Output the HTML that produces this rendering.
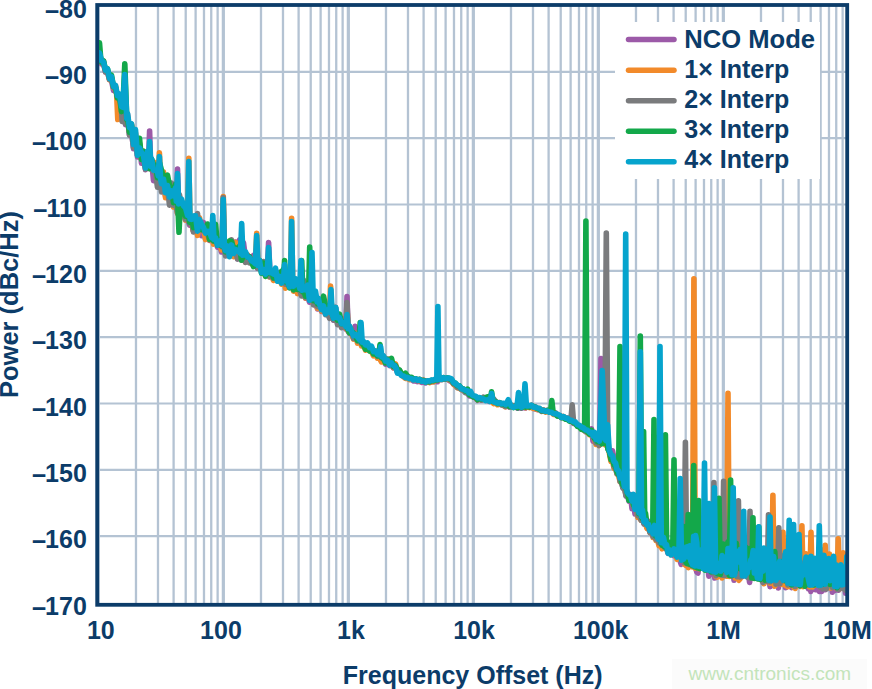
<!DOCTYPE html>
<html><head><meta charset="utf-8"><style>
html,body{margin:0;padding:0;background:#fff;}
svg{display:block;}
.t{font-family:"Liberation Sans",sans-serif;font-weight:bold;font-size:25px;fill:#0c3c69;}
.wm{font-family:"Liberation Sans",sans-serif;font-size:19px;fill:#c3e4ba;}
</style></head><body>
<svg width="872" height="689" viewBox="0 0 872 689">
<line x1="98.35" y1="5" x2="98.35" y2="604" stroke="#b4c3d3" stroke-width="3.2"/>
<line x1="135.98" y1="5" x2="135.98" y2="604" stroke="#b4c3d3" stroke-width="2.3"/>
<line x1="157.99" y1="5" x2="157.99" y2="604" stroke="#b4c3d3" stroke-width="2.3"/>
<line x1="173.61" y1="5" x2="173.61" y2="604" stroke="#b4c3d3" stroke-width="2.3"/>
<line x1="185.72" y1="5" x2="185.72" y2="604" stroke="#b4c3d3" stroke-width="2.3"/>
<line x1="195.62" y1="5" x2="195.62" y2="604" stroke="#b4c3d3" stroke-width="2.3"/>
<line x1="203.99" y1="5" x2="203.99" y2="604" stroke="#b4c3d3" stroke-width="2.3"/>
<line x1="211.24" y1="5" x2="211.24" y2="604" stroke="#b4c3d3" stroke-width="2.3"/>
<line x1="217.63" y1="5" x2="217.63" y2="604" stroke="#b4c3d3" stroke-width="2.3"/>
<line x1="223.35" y1="5" x2="223.35" y2="604" stroke="#b4c3d3" stroke-width="3.2"/>
<line x1="260.98" y1="5" x2="260.98" y2="604" stroke="#b4c3d3" stroke-width="2.3"/>
<line x1="282.99" y1="5" x2="282.99" y2="604" stroke="#b4c3d3" stroke-width="2.3"/>
<line x1="298.61" y1="5" x2="298.61" y2="604" stroke="#b4c3d3" stroke-width="2.3"/>
<line x1="310.72" y1="5" x2="310.72" y2="604" stroke="#b4c3d3" stroke-width="2.3"/>
<line x1="320.62" y1="5" x2="320.62" y2="604" stroke="#b4c3d3" stroke-width="2.3"/>
<line x1="328.99" y1="5" x2="328.99" y2="604" stroke="#b4c3d3" stroke-width="2.3"/>
<line x1="336.24" y1="5" x2="336.24" y2="604" stroke="#b4c3d3" stroke-width="2.3"/>
<line x1="342.63" y1="5" x2="342.63" y2="604" stroke="#b4c3d3" stroke-width="2.3"/>
<line x1="348.35" y1="5" x2="348.35" y2="604" stroke="#b4c3d3" stroke-width="3.2"/>
<line x1="385.98" y1="5" x2="385.98" y2="604" stroke="#b4c3d3" stroke-width="2.3"/>
<line x1="407.99" y1="5" x2="407.99" y2="604" stroke="#b4c3d3" stroke-width="2.3"/>
<line x1="423.61" y1="5" x2="423.61" y2="604" stroke="#b4c3d3" stroke-width="2.3"/>
<line x1="435.72" y1="5" x2="435.72" y2="604" stroke="#b4c3d3" stroke-width="2.3"/>
<line x1="445.62" y1="5" x2="445.62" y2="604" stroke="#b4c3d3" stroke-width="2.3"/>
<line x1="453.99" y1="5" x2="453.99" y2="604" stroke="#b4c3d3" stroke-width="2.3"/>
<line x1="461.24" y1="5" x2="461.24" y2="604" stroke="#b4c3d3" stroke-width="2.3"/>
<line x1="467.63" y1="5" x2="467.63" y2="604" stroke="#b4c3d3" stroke-width="2.3"/>
<line x1="473.35" y1="5" x2="473.35" y2="604" stroke="#b4c3d3" stroke-width="3.2"/>
<line x1="510.98" y1="5" x2="510.98" y2="604" stroke="#b4c3d3" stroke-width="2.3"/>
<line x1="532.99" y1="5" x2="532.99" y2="604" stroke="#b4c3d3" stroke-width="2.3"/>
<line x1="548.61" y1="5" x2="548.61" y2="604" stroke="#b4c3d3" stroke-width="2.3"/>
<line x1="560.72" y1="5" x2="560.72" y2="604" stroke="#b4c3d3" stroke-width="2.3"/>
<line x1="570.62" y1="5" x2="570.62" y2="604" stroke="#b4c3d3" stroke-width="2.3"/>
<line x1="578.99" y1="5" x2="578.99" y2="604" stroke="#b4c3d3" stroke-width="2.3"/>
<line x1="586.24" y1="5" x2="586.24" y2="604" stroke="#b4c3d3" stroke-width="2.3"/>
<line x1="592.63" y1="5" x2="592.63" y2="604" stroke="#b4c3d3" stroke-width="2.3"/>
<line x1="598.35" y1="5" x2="598.35" y2="604" stroke="#b4c3d3" stroke-width="3.2"/>
<line x1="635.98" y1="5" x2="635.98" y2="604" stroke="#b4c3d3" stroke-width="2.3"/>
<line x1="657.99" y1="5" x2="657.99" y2="604" stroke="#b4c3d3" stroke-width="2.3"/>
<line x1="673.61" y1="5" x2="673.61" y2="604" stroke="#b4c3d3" stroke-width="2.3"/>
<line x1="685.72" y1="5" x2="685.72" y2="604" stroke="#b4c3d3" stroke-width="2.3"/>
<line x1="695.62" y1="5" x2="695.62" y2="604" stroke="#b4c3d3" stroke-width="2.3"/>
<line x1="703.99" y1="5" x2="703.99" y2="604" stroke="#b4c3d3" stroke-width="2.3"/>
<line x1="711.24" y1="5" x2="711.24" y2="604" stroke="#b4c3d3" stroke-width="2.3"/>
<line x1="717.63" y1="5" x2="717.63" y2="604" stroke="#b4c3d3" stroke-width="2.3"/>
<line x1="723.35" y1="5" x2="723.35" y2="604" stroke="#b4c3d3" stroke-width="3.2"/>
<line x1="760.98" y1="5" x2="760.98" y2="604" stroke="#b4c3d3" stroke-width="2.3"/>
<line x1="782.99" y1="5" x2="782.99" y2="604" stroke="#b4c3d3" stroke-width="2.3"/>
<line x1="798.61" y1="5" x2="798.61" y2="604" stroke="#b4c3d3" stroke-width="2.3"/>
<line x1="810.72" y1="5" x2="810.72" y2="604" stroke="#b4c3d3" stroke-width="2.3"/>
<line x1="820.62" y1="5" x2="820.62" y2="604" stroke="#b4c3d3" stroke-width="2.3"/>
<line x1="828.99" y1="5" x2="828.99" y2="604" stroke="#b4c3d3" stroke-width="2.3"/>
<line x1="836.24" y1="5" x2="836.24" y2="604" stroke="#b4c3d3" stroke-width="2.3"/>
<line x1="842.63" y1="5" x2="842.63" y2="604" stroke="#b4c3d3" stroke-width="2.3"/>
<line x1="97" y1="71.83" x2="847" y2="71.83" stroke="#b4c3d3" stroke-width="2.2"/>
<line x1="97" y1="138.16" x2="847" y2="138.16" stroke="#b4c3d3" stroke-width="2.2"/>
<line x1="97" y1="204.49" x2="847" y2="204.49" stroke="#b4c3d3" stroke-width="2.2"/>
<line x1="97" y1="270.82" x2="847" y2="270.82" stroke="#b4c3d3" stroke-width="2.2"/>
<line x1="97" y1="337.15" x2="847" y2="337.15" stroke="#b4c3d3" stroke-width="2.2"/>
<line x1="97" y1="403.48" x2="847" y2="403.48" stroke="#b4c3d3" stroke-width="2.2"/>
<line x1="97" y1="469.81" x2="847" y2="469.81" stroke="#b4c3d3" stroke-width="2.2"/>
<line x1="97" y1="536.14" x2="847" y2="536.14" stroke="#b4c3d3" stroke-width="2.2"/>
<rect x="615" y="22" width="205" height="157" fill="#ffffff"/>
<defs><clipPath id="pc"><rect x="97.2" y="5" width="750" height="600"/></clipPath></defs><g clip-path="url(#pc)">
<polyline points="97.5,55.6 99.5,53.7 101.5,64.0 103.5,63.9 105.5,72.1 107.5,72.2 109.5,79.5 111.5,80.2 113.5,90.5 115.5,88.1 117.5,97.4 119.5,98.6 121.5,110.0 123.5,99.2 125.5,124.6 127.5,114.0 129.5,135.0 131.5,130.9 133.5,148.7 135.5,138.2 137.5,157.0 139.5,142.9 141.5,163.3 143.5,152.0 145.5,169.6 147.5,161.5 148.4,165.9 149.6,131.0 150.8,168.8 151.5,159.3 153.5,180.6 155.5,172.6 157.5,177.4 159.5,175.7 161.5,189.1 163.5,185.1 165.5,196.1 167.5,179.9 169.5,191.9 171.5,193.8 173.5,206.2 175.5,196.1 176.3,203.6 177.5,169.1 178.7,206.4 179.5,200.2 181.5,213.4 183.5,209.0 185.5,219.9 187.5,217.3 189.5,225.1 191.5,223.0 193.5,231.0 195.5,227.1 197.5,222.0 199.5,229.5 201.5,235.6 203.5,222.4 205.5,239.0 207.5,234.0 209.5,240.3 211.5,232.6 213.5,242.6 215.5,241.2 217.5,247.0 219.5,244.0 221.5,252.0 223.5,243.6 225.5,253.1 227.5,246.2 229.5,248.2 231.5,249.9 233.5,254.3 235.5,242.0 237.5,259.0 239.5,239.8 241.5,258.0 243.5,242.8 245.5,258.6 247.5,255.0 249.5,259.2 251.5,260.2 253.5,255.4 255.5,261.0 257.5,268.3 259.5,264.3 261.5,264.1 263.5,267.4 265.5,267.7 267.2,273.8 268.6,242.5 270.0,275.2 271.5,271.1 273.5,276.5 275.5,273.2 277.5,279.7 279.5,275.4 281.5,281.8 283.5,276.7 285.5,284.6 287.5,274.2 289.5,284.6 291.5,281.2 293.5,288.7 295.5,285.2 297.5,293.1 299.5,288.8 301.5,284.3 303.5,293.7 305.5,298.2 307.5,295.6 309.5,302.1 311.5,300.7 313.5,296.9 315.5,302.8 317.5,308.8 319.5,306.4 321.5,311.3 323.5,309.1 325.5,308.7 327.5,312.0 329.5,317.2 331.5,314.2 333.5,320.1 335.5,307.7 337.5,323.2 339.5,319.4 341.5,318.6 343.5,324.4 345.8,328.9 347.0,296.5 348.2,331.3 349.5,333.0 351.5,332.4 353.8,337.1 355.0,326.2 356.2,339.3 357.5,340.4 359.5,339.0 361.5,343.0 363.5,342.4 365.5,347.4 367.5,347.4 369.5,350.5 371.5,350.2 373.5,352.7 375.5,351.7 377.5,357.1 379.5,355.8 381.5,360.9 383.5,359.3 385.5,364.1 387.5,362.3 389.5,365.7 391.5,364.9 393.5,368.0 395.5,367.5 397.5,372.3 399.5,372.9 401.5,375.0 403.5,376.1 405.5,377.6 407.5,377.0 409.5,378.9 411.5,379.5 413.5,380.9 415.5,380.8 417.5,381.6 419.5,381.3 421.5,382.4 423.5,381.6 425.5,383.0 427.5,381.5 429.5,382.3 431.5,381.7 433.5,381.8 435.5,381.1 437.5,381.7 439.5,376.5 441.5,379.2 443.5,377.9 445.5,379.0 447.5,378.7 449.5,380.7 451.5,381.6 453.5,383.6 455.5,384.3 457.5,386.4 459.5,387.6 461.5,388.9 463.5,389.2 465.5,392.0 467.5,392.8 469.5,395.9 471.5,396.0 473.5,397.1 475.5,397.8 477.5,400.4 479.5,398.8 481.5,400.1 483.5,399.1 485.5,400.3 487.5,400.4 489.5,401.5 491.5,400.8 493.5,402.2 495.5,402.0 497.5,403.4 499.5,403.3 501.5,404.7 503.5,404.2 505.5,405.5 507.5,404.9 509.5,406.9 511.5,405.8 513.5,406.6 515.5,406.9 517.5,408.3 519.5,407.7 521.5,408.2 523.5,407.4 525.5,408.0 527.5,406.0 529.5,406.1 531.5,406.1 533.5,408.4 535.5,409.0 537.5,409.6 539.5,409.6 541.5,410.8 543.5,409.9 545.5,411.0 547.5,411.1 549.5,412.1 551.5,411.9 553.5,413.4 555.5,413.5 557.5,414.8 559.5,415.7 561.5,417.6 563.5,417.0 565.5,418.5 567.5,418.4 569.5,420.1 571.5,420.5 573.5,423.4 575.5,423.8 577.5,425.8 579.5,426.2 581.5,428.9 583.5,429.0 585.5,430.9 587.5,431.7 589.5,433.9 591.5,428.9 593.0,441.1 594.5,433.8 596.0,443.3 597.5,441.7 599.0,444.8 599.6,443.5 601.0,358.5 602.4,442.1 603.5,438.1 605.0,442.1 606.5,441.0 608.0,449.0 609.5,451.5 611.0,458.5 612.5,450.8 614.0,458.5 615.5,459.1 617.0,469.0 618.5,473.6 620.0,472.9 621.5,482.0 623.0,487.7 624.5,482.1 626.0,495.9 627.5,495.5 629.0,501.2 630.5,494.6 632.0,508.6 633.5,499.8 635.0,514.0 636.5,511.8 638.0,517.0 639.5,515.9 641.0,519.0 642.5,518.1 644.0,523.8 645.5,523.3 647.0,527.4 648.5,521.3 650.0,523.5 651.5,529.4 653.0,533.6 654.5,532.6 656.0,537.2 657.5,537.3 659.0,536.2 660.5,540.6 662.0,540.2 663.5,545.4 665.0,542.3 666.5,547.7 668.0,553.3 669.5,550.9 671.0,546.0 672.5,547.0 674.0,555.7 675.5,554.4 677.0,553.3 678.5,554.9 680.0,560.6 681.2,564.4 682.4,548.3 683.6,556.3 684.8,561.5 686.0,547.0 687.2,562.7 688.4,549.7 689.6,550.1 690.8,550.0 692.0,566.5 693.2,560.6 694.4,548.6 695.6,567.5 696.8,572.1 698.0,573.0 699.2,558.9 700.4,563.6 701.6,556.9 702.8,550.3 704.0,562.1 705.2,566.8 706.4,553.0 707.6,559.8 708.8,576.1 710.0,572.2 711.2,563.4 712.4,574.0 713.6,551.5 714.8,578.0 716.0,555.5 717.2,554.7 718.4,571.8 719.6,572.7 720.8,567.1 722.0,575.9 723.2,554.1 724.4,565.5 725.6,569.4 726.8,576.0 728.0,567.8 729.2,567.2 730.4,563.6 731.6,563.9 732.8,563.9 734.0,580.3 735.2,571.5 736.4,574.0 737.6,562.6 738.8,578.2 740.0,576.2 741.2,577.2 742.4,576.5 743.6,558.7 744.8,560.6 746.0,557.7 747.2,576.2 748.4,574.0 749.6,582.4 750.8,569.1 752.0,574.4 753.2,576.8 754.4,562.6 755.6,558.8 756.8,569.1 758.0,567.3 759.2,569.2 760.4,566.1 761.6,573.2 762.8,562.2 764.0,582.9 765.2,571.9 766.4,576.6 767.6,580.9 768.8,571.4 770.0,586.6 771.2,565.5 772.4,569.2 773.6,585.6 774.8,566.9 776.0,581.9 777.2,572.1 778.4,588.0 779.6,570.0 780.8,571.8 782.0,581.2 783.2,582.1 784.4,579.1 785.6,587.8 786.8,565.8 788.0,579.6 789.2,576.8 790.4,578.3 791.6,587.6 792.8,575.0 794.0,567.6 795.2,566.7 796.4,582.4 797.6,582.3 798.8,567.4 800.0,573.5 801.2,576.8 802.4,576.8 803.6,571.4 804.8,586.0 806.0,585.3 807.2,585.6 808.4,588.6 809.6,579.4 810.8,591.4 812.0,579.0 813.2,586.9 814.4,584.3 815.6,589.7 816.8,573.5 818.0,588.8 819.2,591.4 820.4,574.4 821.6,591.5 822.8,587.2 824.0,569.2 825.2,589.8 826.4,582.0 827.6,577.7 828.8,581.7 830.0,582.6 831.2,576.6 832.4,592.2 833.6,587.6 834.8,590.5 836.0,571.0 837.2,573.6 838.4,590.3 839.6,583.1 840.8,578.5 842.0,583.5 843.2,578.4 844.4,577.9 845.6,593.3 846.8,592.6" fill="none" stroke="#9c5aa8" stroke-width="5.6" stroke-linejoin="round" stroke-linecap="round"/>
<polyline points="97.5,55.3 99.5,55.3 101.5,62.7 103.5,63.5 105.5,70.2 107.5,70.8 109.5,79.6 111.5,77.7 113.5,87.8 115.5,85.9 116.6,93.0 117.8,119.5 119.0,99.1 121.5,103.0 123.5,101.5 125.5,111.2 127.5,116.3 129.5,131.5 131.5,124.3 133.5,136.5 135.5,133.1 137.5,149.1 139.5,144.1 141.5,158.3 143.5,151.2 145.5,164.9 147.5,152.3 149.5,166.0 151.5,167.7 153.5,164.3 155.5,162.8 157.5,182.0 158.2,177.8 159.4,152.8 160.6,181.0 161.5,180.7 163.5,172.1 165.5,197.7 167.5,187.4 169.5,192.8 171.5,193.2 173.5,207.1 175.5,202.1 177.5,213.4 179.5,204.2 181.5,200.7 183.5,210.6 185.5,219.9 187.6,217.5 188.8,158.2 190.0,221.0 191.5,222.7 193.5,231.5 195.5,215.9 197.5,235.4 199.5,217.9 201.5,229.8 203.5,227.7 205.5,239.6 207.5,232.6 209.5,239.9 211.5,234.8 213.5,244.1 215.5,236.9 217.5,241.9 219.5,240.2 221.5,250.0 222.1,247.5 223.3,196.5 224.5,249.3 225.5,248.6 227.5,248.3 229.5,256.0 231.5,243.6 233.5,256.7 235.5,242.4 237.5,257.4 239.5,252.5 241.5,247.8 243.5,252.6 245.5,261.8 247.5,255.1 249.5,257.5 251.5,259.7 253.5,266.1 255.3,265.7 256.7,233.2 258.1,267.5 259.5,264.9 261.5,271.7 263.5,268.4 265.5,275.9 267.5,270.1 269.5,276.9 271.5,275.7 273.5,280.4 275.5,273.8 277.5,276.0 279.5,278.2 281.5,284.1 283.5,271.5 285.5,288.3 287.5,281.8 289.5,280.6 290.4,285.1 291.6,218.2 292.8,286.2 293.5,291.2 295.5,286.3 297.5,293.6 299.5,289.9 301.5,286.9 303.5,286.3 305.5,297.9 307.5,295.8 309.5,293.7 311.5,298.8 313.5,304.0 315.5,301.4 317.5,308.1 319.5,304.6 321.5,310.9 323.5,306.2 325.5,310.7 327.5,309.2 329.4,313.9 330.6,286.1 331.8,315.8 333.5,314.0 335.5,315.0 337.5,321.7 339.5,320.5 341.5,326.3 343.5,325.2 345.8,328.4 347.0,308.5 348.2,330.8 349.5,326.5 351.5,333.9 353.5,339.0 355.5,333.5 357.5,343.1 359.5,336.2 361.5,346.0 363.5,344.4 365.5,350.2 367.5,349.2 369.5,350.4 371.5,351.6 373.5,355.8 375.5,353.8 377.5,358.3 379.5,358.1 381.5,361.9 383.5,359.4 385.5,362.2 387.5,361.8 389.5,359.3 391.5,363.1 393.5,367.5 395.5,363.9 397.5,371.1 399.5,371.1 401.5,374.8 403.5,376.6 405.5,378.5 407.5,378.4 409.5,379.7 411.5,378.8 413.5,379.8 415.5,379.0 417.5,380.4 419.5,380.8 421.5,380.9 423.5,380.1 425.5,382.1 427.5,381.5 429.5,382.6 431.5,381.8 433.5,381.7 435.5,380.2 437.5,380.0 439.5,378.9 441.5,378.6 443.5,378.0 445.5,378.9 447.5,378.7 449.5,380.1 451.5,380.1 453.5,384.2 455.5,385.7 457.5,387.8 459.5,388.2 461.5,389.6 463.5,389.4 465.5,391.3 467.5,392.3 469.5,393.8 471.5,394.4 473.5,396.5 475.5,397.4 477.5,399.7 479.5,398.8 481.5,399.8 483.5,399.2 485.5,399.9 487.5,400.2 489.5,401.0 491.5,401.1 493.5,403.6 495.5,402.7 497.5,404.8 499.5,404.3 501.5,403.8 503.5,405.5 505.5,406.8 507.5,405.5 509.5,405.8 511.5,405.3 513.5,406.4 515.5,406.1 517.5,406.9 519.5,405.5 521.5,406.5 523.5,406.4 525.5,407.7 527.5,407.0 529.5,407.6 531.5,406.3 533.5,408.5 535.5,408.4 537.5,409.5 539.5,408.7 541.5,410.3 543.5,410.0 545.5,412.1 547.5,411.3 549.5,412.2 551.5,412.2 553.5,414.5 555.5,414.5 557.5,415.4 559.5,416.0 561.5,416.8 563.5,416.5 565.5,418.4 567.5,419.4 569.5,420.1 571.5,420.5 573.5,422.6 575.5,423.2 577.5,425.6 579.5,426.1 581.5,429.2 583.5,429.3 585.5,431.4 587.5,432.4 589.5,434.6 591.5,435.5 593.0,433.2 594.5,439.7 596.0,444.4 597.5,442.6 599.0,445.5 600.5,441.5 602.0,436.2 603.5,440.7 605.0,444.6 606.5,437.9 608.0,442.2 609.5,453.9 611.0,461.5 612.5,460.6 614.0,468.3 615.5,463.4 617.0,474.2 618.5,474.8 620.0,481.5 621.5,483.1 623.0,482.8 624.5,487.4 626.0,494.5 627.5,494.7 629.0,497.0 630.5,500.5 632.0,500.7 633.5,506.0 635.0,502.5 636.5,510.7 638.0,517.5 639.5,515.7 641.0,520.0 642.5,519.4 644.0,520.1 645.5,523.3 647.0,528.5 648.5,526.4 650.0,532.6 651.5,523.9 653.0,537.5 654.5,531.5 656.0,540.5 657.5,539.9 659.0,545.7 660.5,543.4 662.0,548.8 663.5,546.5 665.0,542.3 666.5,548.2 668.0,552.1 669.5,550.8 671.0,554.7 672.5,551.5 674.0,550.9 675.5,553.5 677.0,559.4 678.5,555.3 680.0,550.6 681.2,558.8 682.4,554.3 683.6,540.0 684.8,564.6 686.0,565.5 687.2,553.9 688.4,567.6 689.6,559.9 690.8,563.7 692.5,566.7 693.9,278.8 695.3,568.2 696.8,552.9 698.0,562.8 699.2,568.8 700.4,543.3 701.6,550.6 702.8,553.9 704.0,568.4 705.2,569.2 706.4,547.6 707.6,549.5 708.8,549.7 710.0,568.7 711.2,554.8 712.4,551.2 713.6,548.2 714.8,555.8 716.0,576.4 717.2,577.0 718.4,571.6 719.6,553.5 720.8,570.5 722.0,578.0 723.2,566.3 724.4,575.8 725.6,568.4 726.7,576.2 728.0,393.2 729.3,576.4 730.4,565.2 731.6,547.0 732.8,548.6 734.0,565.5 735.2,577.9 736.4,558.5 737.6,577.4 738.8,580.3 740.0,578.9 741.2,568.6 742.4,552.0 743.6,566.6 744.8,555.4 746.0,565.5 747.2,557.9 748.4,566.1 749.6,557.6 750.8,572.3 752.0,575.4 753.2,555.3 754.4,555.9 755.6,555.8 756.8,561.0 758.0,556.1 759.2,565.5 760.4,562.0 761.6,561.0 762.8,572.8 764.0,583.8 765.2,553.7 766.4,553.1 767.6,576.4 768.8,572.7 770.0,583.3 771.6,582.8 772.9,495.2 774.2,583.3 774.8,586.1 776.0,555.3 777.2,562.9 778.4,559.7 779.6,568.3 780.8,563.6 781.7,584.3 783.0,532.2 784.3,584.6 785.6,585.5 786.8,573.3 788.0,586.8 789.2,566.4 790.4,567.9 791.6,562.9 792.8,557.8 794.0,587.6 795.2,588.3 796.4,575.2 797.6,572.2 798.8,563.7 800.6,586.5 801.9,525.7 803.2,586.6 804.8,565.4 806.0,553.9 807.2,562.4 808.4,554.8 809.7,586.9 811.0,532.2 812.3,587.0 813.2,568.9 814.4,562.9 815.6,585.2 816.8,568.7 818.0,584.8 819.2,569.2 820.4,549.6 821.6,555.3 822.8,582.5 823.9,587.5 825.2,545.3 826.5,587.6 828.2,587.8 829.5,554.0 830.8,588.0 832.4,580.1 833.6,577.9 834.8,581.5 836.0,571.5 836.9,588.5 838.2,538.8 839.5,588.8 840.8,559.4 842.0,572.0 843.2,552.9 844.4,581.6 845.6,575.6 846.8,581.1" fill="none" stroke="#f28a2a" stroke-width="5.6" stroke-linejoin="round" stroke-linecap="round"/>
<polyline points="97.5,55.1 99.5,53.1 101.5,62.7 103.5,61.1 105.5,72.0 107.5,70.7 109.5,79.5 111.5,78.8 113.5,87.6 115.5,88.1 117.5,97.8 119.5,97.9 121.0,103.7 122.2,121.4 123.4,110.3 125.5,123.8 127.5,117.9 129.5,135.3 131.5,130.6 133.5,147.6 135.5,141.0 137.5,155.5 139.5,144.8 141.5,155.1 143.5,159.5 145.5,169.1 147.5,157.8 149.5,167.7 151.5,167.3 153.5,171.5 155.5,173.4 157.5,187.3 159.5,172.7 161.5,191.9 163.5,180.6 165.5,188.3 167.5,188.0 169.5,205.1 171.5,183.0 173.5,205.3 175.5,202.4 177.5,213.1 179.5,194.8 181.5,209.4 183.5,210.6 185.5,219.1 187.5,213.8 189.5,223.4 191.5,221.1 193.5,231.9 195.5,225.0 196.3,228.5 197.5,213.5 198.7,230.2 199.5,225.7 201.5,226.8 203.5,230.8 205.5,231.8 207.5,233.6 209.5,239.7 211.5,235.4 213.5,241.1 215.5,237.6 217.5,240.9 219.5,242.9 222.0,246.9 223.2,197.5 224.4,248.7 225.5,255.9 227.5,248.6 229.5,255.4 231.5,239.9 233.5,251.7 235.5,250.3 237.5,258.9 239.5,253.4 241.5,260.2 243.5,255.7 245.5,262.4 247.5,258.2 249.5,262.9 251.5,261.3 253.5,265.6 255.5,261.4 257.5,268.1 259.5,264.3 261.5,270.2 263.5,261.6 265.5,272.2 267.5,270.7 269.5,276.5 271.5,271.2 273.5,278.4 275.5,273.1 277.5,272.3 279.5,276.3 281.5,282.1 283.5,269.4 285.5,284.3 287.5,278.7 289.5,274.7 291.5,282.4 293.5,285.4 295.5,286.3 297.5,284.3 299.5,289.0 301.5,296.0 303.5,280.1 305.5,297.4 307.5,295.7 309.5,292.4 311.5,287.9 313.5,304.9 315.5,301.3 317.5,306.5 319.5,304.8 321.5,309.5 323.5,308.9 325.5,314.7 327.5,311.3 329.5,318.3 331.5,304.0 333.5,320.0 335.5,307.3 337.5,324.6 339.5,320.8 341.5,327.6 343.5,325.2 345.8,327.9 347.0,302.5 348.2,330.3 349.5,333.0 351.5,328.9 353.5,338.4 355.5,336.7 357.5,340.8 359.5,339.7 361.5,343.8 363.5,344.3 365.5,347.0 367.5,345.5 369.5,349.2 371.5,347.7 373.5,351.6 375.5,351.0 377.5,356.3 379.5,354.7 381.5,357.7 383.5,356.3 385.5,360.5 387.5,359.1 389.5,364.3 391.5,362.1 393.5,367.2 395.5,366.7 397.5,369.2 399.5,370.4 401.5,374.7 403.5,375.8 405.5,377.1 407.5,376.3 409.5,377.8 411.5,378.0 413.5,379.3 415.5,378.7 417.5,380.3 419.5,379.3 421.5,380.4 423.5,380.3 425.5,381.2 427.5,380.7 429.5,381.9 431.5,380.5 433.5,380.7 435.5,379.4 437.5,380.5 439.5,379.6 441.5,379.8 443.5,379.0 445.5,379.1 447.5,378.5 449.5,379.8 451.5,380.4 453.5,383.8 455.5,384.9 457.5,387.5 459.5,388.0 461.5,389.4 463.5,390.6 465.5,392.7 467.5,393.4 469.5,395.2 471.5,395.9 473.5,396.8 475.5,396.8 477.5,398.7 479.5,398.8 481.5,400.0 483.5,397.2 485.5,399.8 487.5,399.3 489.5,400.6 491.5,400.2 493.5,398.8 495.5,401.3 497.5,402.9 499.5,402.6 501.5,404.9 503.5,405.4 505.5,406.5 507.5,405.9 509.5,407.0 511.5,405.9 513.5,406.5 515.5,405.6 517.5,406.2 519.5,405.6 521.5,406.1 523.5,405.6 525.5,406.0 527.5,405.2 529.5,406.1 531.5,405.2 533.5,406.9 535.5,406.9 537.5,408.5 539.5,409.1 541.5,411.4 543.5,410.7 545.5,411.3 547.5,410.4 549.5,411.7 551.5,411.6 553.5,412.7 555.5,412.7 557.5,415.4 559.5,415.7 561.5,416.4 563.5,416.5 565.5,418.8 567.5,418.1 569.5,420.2 570.8,420.7 572.2,404.9 573.6,422.8 575.5,423.3 577.5,425.1 579.5,425.7 581.5,428.0 583.5,429.5 585.5,431.6 587.5,431.3 589.5,433.7 591.5,433.1 593.0,437.3 594.5,438.1 596.0,442.9 597.5,441.6 599.0,445.3 600.5,441.1 602.0,442.7 603.5,432.1 604.8,440.8 606.3,233.0 607.8,446.2 609.5,451.6 611.0,458.4 612.5,455.2 614.0,466.5 615.5,468.4 617.0,473.6 618.5,467.5 620.0,481.5 621.5,482.0 623.0,488.4 624.5,488.4 626.0,495.6 627.5,494.6 629.0,499.6 630.5,500.0 632.0,497.3 633.5,507.1 635.0,508.3 636.5,510.9 638.0,515.7 639.5,515.2 641.0,520.2 642.5,519.3 644.0,523.9 645.5,522.5 647.0,521.3 648.5,527.6 650.0,532.7 651.5,530.9 653.0,536.5 654.5,534.2 656.0,539.6 657.5,537.1 659.0,542.9 660.5,541.3 662.0,545.2 663.5,543.3 665.0,547.8 666.5,544.4 668.0,550.4 669.5,548.4 671.0,552.5 672.5,544.5 674.0,548.2 675.5,552.5 677.0,556.7 678.5,550.1 680.0,519.6 681.2,523.7 682.4,555.3 684.1,562.6 685.4,442.3 686.7,563.6 688.4,522.5 689.6,564.7 690.8,524.2 692.0,565.6 693.2,537.8 694.4,527.0 695.6,565.1 696.8,548.0 698.0,537.6 699.2,538.7 700.4,537.7 701.6,546.1 702.8,554.2 704.0,553.2 705.2,542.7 706.4,543.8 707.6,548.4 708.8,538.5 710.0,566.3 711.2,564.3 712.6,572.9 713.9,482.5 715.2,573.6 716.0,575.7 717.2,538.1 718.4,572.8 719.6,553.4 720.8,549.4 722.3,575.2 723.6,481.3 724.9,575.5 725.6,542.0 726.8,561.5 728.0,571.7 729.2,562.3 730.4,557.2 731.6,575.6 732.8,557.5 734.0,554.0 735.2,573.2 736.4,568.7 737.1,576.7 738.4,500.9 739.7,577.0 741.2,576.5 742.4,570.2 743.6,548.0 744.8,557.1 746.0,566.3 747.2,577.1 748.7,577.9 750.0,511.3 751.3,578.3 752.0,554.8 753.2,558.1 754.4,566.2 755.6,558.7 756.8,566.7 758.0,572.7 759.2,546.8 760.4,558.3 761.6,572.2 762.8,582.5 764.0,569.9 765.2,574.7 766.4,554.1 767.2,581.4 768.5,514.8 769.8,582.0 771.2,563.6 772.4,580.4 773.6,568.8 774.8,558.9 776.0,584.2 777.5,583.3 778.8,527.9 780.1,583.6 780.8,571.3 782.0,577.6 783.2,560.2 784.4,555.3 785.6,574.3 786.8,563.0 788.0,584.9 789.2,584.3 790.4,558.3 791.6,583.8 792.8,566.2 794.0,566.6 795.2,586.5 796.4,562.9 797.6,573.3 798.8,575.4 800.0,568.5 801.2,578.7 802.4,563.2 803.6,573.8 804.8,566.9 806.0,578.5 807.2,578.8 808.4,581.2 809.6,585.1 810.8,564.4 812.0,574.0 813.2,562.6 814.4,572.8 815.6,568.8 816.8,575.0 818.0,577.4 819.2,566.1 820.4,587.0 821.6,574.1 822.8,588.9 824.0,587.1 825.2,562.8 826.4,588.9 827.6,569.0 828.8,563.0 830.0,572.9 831.2,564.1 832.4,587.4 833.6,572.9 834.8,576.2 836.0,579.4 837.2,589.2 838.4,589.5 839.6,571.4 840.8,587.9 842.0,575.3 843.2,588.6 844.4,576.9 845.6,590.2 846.8,567.7" fill="none" stroke="#7a7b7d" stroke-width="5.6" stroke-linejoin="round" stroke-linecap="round"/>
<polyline points="97.5,55.8 98.3,53.7 99.5,42.9 100.7,57.9 101.5,62.0 103.5,60.9 105.5,69.5 107.5,68.9 109.5,77.2 111.5,75.2 113.5,86.7 115.5,87.0 117.5,97.9 119.5,97.2 121.5,111.6 122.8,108.2 124.8,63.9 126.8,119.4 127.5,117.5 129.5,132.3 131.5,125.0 133.5,141.3 135.5,136.7 137.5,150.0 139.5,138.3 141.5,159.4 143.5,151.2 145.5,163.1 147.5,156.7 149.5,168.7 151.5,159.0 153.5,164.4 155.5,165.4 157.5,177.7 159.5,162.8 161.5,170.2 163.5,178.0 165.5,181.5 167.5,175.2 169.5,185.5 171.5,189.7 173.5,202.8 175.5,184.4 177.8,203.9 179.0,232.3 180.2,206.7 181.5,211.5 183.5,207.2 185.5,216.2 187.5,205.2 189.5,222.2 191.5,217.9 193.5,227.6 195.5,222.0 197.5,221.5 199.5,227.6 201.5,229.6 203.5,227.6 205.5,231.2 207.5,224.0 209.5,239.4 211.5,227.9 213.5,240.9 215.5,224.2 217.5,245.1 219.5,239.4 221.5,246.0 223.5,240.6 225.5,251.8 227.5,244.7 229.5,240.9 231.5,241.5 233.5,247.9 235.5,247.9 237.5,249.4 239.5,246.3 241.5,260.1 243.5,255.1 245.5,254.6 247.5,257.2 249.5,256.7 251.5,261.2 253.5,266.5 255.5,263.2 257.5,264.6 259.5,260.4 261.5,273.2 263.5,263.1 265.5,276.4 267.5,264.0 269.5,273.3 271.5,271.5 273.5,277.8 275.5,274.1 277.5,280.8 279.5,277.4 281.5,271.3 283.4,280.7 284.6,260.5 285.8,281.9 287.5,281.0 289.5,287.8 291.5,282.9 293.5,290.0 295.5,283.0 297.5,289.3 299.5,287.7 300.5,290.0 301.7,260.5 302.9,291.8 303.5,289.4 305.5,296.2 307.5,293.2 308.5,295.8 309.7,247.1 310.9,297.6 311.5,295.7 313.5,300.7 315.5,298.7 317.5,303.8 319.5,302.2 321.5,306.5 323.5,296.2 325.5,305.6 327.5,308.8 329.5,305.5 331.5,312.0 333.5,317.5 335.5,316.1 337.5,320.2 339.5,314.2 341.5,323.7 343.5,323.1 345.5,321.0 347.5,328.5 349.5,332.7 351.5,332.3 353.5,332.7 355.5,336.2 357.5,340.6 359.0,340.3 360.2,322.5 361.4,342.4 363.5,345.1 365.5,349.3 367.5,348.1 369.5,351.0 371.5,349.9 373.5,353.9 375.5,352.5 377.5,355.9 378.8,355.5 380.0,344.5 381.2,357.4 383.5,358.9 385.5,362.9 387.5,359.5 389.5,363.8 391.5,358.3 393.5,366.4 395.5,365.5 397.5,369.6 399.5,370.0 401.5,374.1 403.5,375.4 405.5,373.3 407.5,376.2 409.5,377.8 411.5,377.2 413.5,379.3 415.5,378.8 417.5,379.9 419.5,379.4 421.5,381.2 423.5,380.5 425.5,381.9 427.5,381.8 429.5,381.7 431.5,380.4 433.5,380.7 435.5,379.8 437.5,379.9 439.5,378.2 441.5,379.2 443.5,377.6 445.5,378.7 447.5,377.8 449.5,378.8 451.5,379.9 453.5,382.7 455.5,383.3 457.5,385.7 459.5,385.9 461.5,388.4 463.5,389.1 465.5,391.1 467.5,389.1 469.5,394.9 471.5,395.5 473.5,397.0 475.5,397.3 477.5,399.7 479.5,398.0 481.5,398.9 483.5,398.6 485.5,397.9 487.5,396.7 489.5,396.5 490.2,400.8 491.6,391.8 493.0,401.6 495.5,401.6 497.5,403.6 499.5,402.7 501.5,403.8 503.5,404.1 505.5,404.9 507.5,404.4 509.5,406.4 511.5,406.4 513.5,407.6 515.5,406.1 517.5,407.7 519.5,403.6 521.5,407.7 523.5,406.5 525.5,407.2 527.5,406.5 529.5,407.1 531.5,405.6 533.5,406.6 535.5,407.6 537.5,408.5 539.5,409.4 541.5,410.6 543.5,410.6 545.5,411.1 547.5,410.4 549.5,412.0 550.4,412.1 551.8,400.5 553.2,412.9 555.5,413.8 557.5,416.1 559.5,415.8 561.5,417.7 563.5,417.8 565.5,419.1 567.5,419.3 569.5,421.1 571.5,421.1 573.5,422.5 575.5,423.5 577.5,426.4 579.5,427.0 581.5,429.4 583.5,429.9 584.6,430.0 585.9,221.0 587.2,431.5 589.5,434.0 591.5,430.2 593.0,434.5 594.5,438.5 596.0,439.8 597.5,441.6 599.0,441.6 600.5,440.6 602.0,443.8 603.5,431.3 605.0,443.5 606.5,441.6 608.0,449.3 609.5,452.2 611.0,459.7 612.5,459.5 614.0,464.7 615.5,465.7 617.0,471.8 618.6,474.7 620.0,346.5 621.4,481.7 623.0,485.4 624.5,486.2 626.0,488.3 627.5,493.2 629.0,500.3 630.5,498.7 632.0,496.8 633.5,504.9 635.0,504.6 636.5,507.8 638.0,506.6 638.9,513.8 640.3,336.0 641.7,517.6 642.4,518.5 643.6,431.5 644.8,521.7 645.5,513.1 647.0,524.6 648.5,523.9 650.0,528.9 651.5,527.6 652.7,532.3 654.0,419.5 655.3,535.8 656.0,536.1 657.5,535.4 659.0,535.9 660.5,541.0 662.0,545.0 664.1,546.3 665.4,434.7 666.7,548.6 668.0,549.5 669.5,548.4 671.0,542.2 672.7,553.2 674.0,459.9 675.3,554.1 677.0,555.5 678.5,551.5 680.0,515.8 681.2,552.3 682.4,533.8 683.6,526.5 684.8,541.1 686.0,562.3 686.9,563.2 688.2,514.5 689.5,564.2 690.8,556.0 692.4,565.6 693.7,465.5 695.0,567.0 695.6,527.4 697.4,567.9 698.7,500.5 700.0,568.7 701.6,543.0 702.8,555.0 704.0,537.0 705.2,570.2 706.4,536.5 707.6,533.2 708.8,555.0 710.0,552.0 711.2,571.8 712.4,538.6 713.6,539.2 714.8,571.7 716.0,556.6 717.7,573.8 719.0,498.3 720.3,574.5 722.0,556.7 723.2,544.0 724.4,569.8 725.6,559.8 726.8,554.4 728.0,541.8 729.3,575.4 730.6,480.0 731.9,575.7 732.8,570.8 734.0,571.9 735.2,571.7 736.4,543.4 737.6,564.0 738.8,567.8 740.0,568.7 741.2,557.7 742.4,561.7 743.6,555.1 744.8,549.8 746.0,547.2 747.2,567.9 748.4,562.3 749.6,548.6 750.8,552.6 751.7,577.8 753.0,517.9 754.3,578.4 755.6,559.6 756.8,573.4 757.5,579.0 758.8,527.0 760.1,579.5 761.6,558.8 762.8,571.9 764.0,575.0 765.2,580.1 766.4,561.3 767.6,552.3 768.8,577.5 770.0,572.9 771.2,579.9 772.4,554.2 773.6,562.4 774.8,551.6 776.0,570.3 777.2,577.7 778.4,569.9 779.6,576.2 780.8,575.1 782.0,561.5 783.2,569.9 784.4,580.8 785.6,577.1 786.8,560.4 788.0,568.3 789.2,559.2 790.4,562.1 791.6,584.9 792.8,578.8 794.0,566.4 795.2,577.3 796.4,575.1 797.6,566.2 798.8,581.2 800.0,585.8 801.2,582.9 802.4,577.8 803.6,572.3 804.8,586.3 806.0,584.8 807.2,569.1 808.4,567.2 809.6,572.0 810.8,569.8 812.0,578.5 813.2,562.8 814.4,585.0 815.6,566.7 816.8,569.6 818.0,568.3 819.2,561.5 820.4,582.2 821.6,580.7 822.8,577.5 824.0,584.1 825.2,578.6 826.4,577.3 827.6,581.2 828.8,568.3 830.0,584.4 831.2,572.1 832.4,572.5 833.6,581.3 834.8,567.2 836.0,568.5 837.2,587.6 838.4,584.0 839.6,577.8 840.8,570.5 842.0,573.5 843.2,575.5 844.4,574.5 845.6,580.0 846.8,569.9" fill="none" stroke="#13a84a" stroke-width="5.6" stroke-linejoin="round" stroke-linecap="round"/>
<polyline points="97.5,55.9 99.5,53.0 101.5,60.7 103.5,62.0 105.5,70.2 107.5,69.0 109.5,78.5 111.5,76.7 113.5,86.3 115.5,85.3 117.5,95.6 119.5,94.1 121.5,106.5 122.8,107.2 124.8,74.5 126.8,118.4 127.5,113.5 129.5,127.6 131.5,123.8 133.5,144.5 135.5,129.6 137.5,155.2 139.5,147.9 141.5,152.5 143.5,155.7 145.5,168.0 147.5,151.2 148.4,163.4 149.6,141.5 150.8,166.3 151.5,158.8 153.5,170.2 155.5,170.5 157.5,171.8 158.2,175.8 159.4,156.5 160.6,179.0 161.5,183.7 163.5,179.1 165.5,192.8 167.5,185.5 169.5,197.1 171.5,191.0 173.5,195.8 175.5,187.9 176.3,201.1 177.5,173.5 178.7,203.9 179.5,198.6 181.5,199.0 183.5,205.8 185.5,207.5 187.6,215.5 188.8,161.5 190.0,219.0 191.5,219.4 193.5,216.1 195.5,215.8 197.5,231.1 199.5,219.5 201.5,224.2 203.5,227.5 205.5,233.1 207.5,231.3 209.5,231.5 211.6,237.6 212.8,215.5 214.0,239.4 215.5,237.8 217.5,245.2 219.5,241.1 222.0,245.4 223.2,199.5 224.4,247.2 225.5,250.7 227.5,246.0 229.5,256.7 231.5,244.9 233.5,253.5 235.5,249.4 237.5,250.5 239.5,252.3 240.5,253.6 241.7,223.5 242.9,255.3 243.5,252.0 245.5,251.8 247.5,257.0 249.5,257.7 251.5,260.9 253.5,262.0 255.3,263.7 256.7,235.5 258.1,265.5 259.5,260.4 261.5,272.6 263.5,269.5 265.5,274.1 267.2,271.3 268.6,247.5 270.0,272.7 271.5,272.6 273.5,274.1 275.5,268.1 277.5,281.3 279.5,276.4 281.5,283.1 283.4,279.7 284.6,264.5 285.8,280.9 287.5,281.0 289.5,286.9 290.4,283.1 291.6,221.5 292.8,284.2 293.5,286.2 295.5,278.7 297.5,281.7 299.8,288.5 301.0,260.5 302.2,290.3 303.5,289.4 305.5,289.9 307.5,285.1 309.5,300.4 310.8,296.6 312.0,252.5 313.2,298.6 315.5,291.2 317.2,302.0 318.4,298.5 319.6,304.0 321.5,309.7 323.5,305.9 325.5,313.9 327.5,309.9 329.8,312.2 331.0,289.5 332.2,314.1 333.5,318.0 334.6,315.9 335.8,307.5 337.0,317.7 339.5,317.6 341.5,323.5 343.5,322.5 345.8,326.4 347.0,314.5 348.2,328.8 349.5,326.1 351.5,331.2 353.5,335.8 355.5,334.4 357.5,337.1 359.8,340.0 361.0,322.5 362.2,342.1 363.5,341.5 365.5,344.8 367.5,343.0 369.5,347.5 371.5,346.3 373.5,351.6 375.5,351.1 377.5,354.4 379.4,355.0 380.6,346.5 381.8,356.9 383.5,356.0 385.5,361.0 387.5,360.2 389.5,365.0 391.5,363.0 392.6,365.0 394.4,365.5 396.2,368.5 397.5,373.2 399.5,373.0 401.5,375.5 403.5,375.9 405.5,377.7 407.5,377.2 409.5,378.8 411.5,378.6 413.5,380.0 415.5,378.8 417.5,380.4 419.5,379.5 421.5,381.1 423.5,381.0 425.5,382.1 427.5,380.8 429.5,381.1 431.5,380.0 433.5,380.1 435.5,378.9 436.8,379.5 437.9,306.5 439.0,378.9 441.5,379.3 443.5,377.7 445.5,378.6 447.5,378.0 449.5,378.1 451.5,378.9 453.5,382.3 455.5,383.5 457.5,385.1 459.5,386.2 461.5,388.7 463.5,389.2 465.5,390.4 467.5,390.7 468.8,392.9 470.6,391.5 472.4,395.2 473.5,395.6 475.5,396.1 477.5,397.9 479.5,397.6 481.5,398.6 483.5,398.9 485.5,400.6 487.5,399.7 489.5,401.3 490.2,400.3 491.6,393.5 493.0,401.2 495.5,402.5 497.5,403.2 499.5,402.7 501.5,403.7 503.5,403.2 505.8,404.6 508.3,399.8 510.8,405.5 511.5,406.1 513.5,407.3 515.5,406.1 517.1,406.1 518.5,392.5 519.9,406.0 521.5,407.2 523.6,405.8 525.0,383.9 526.4,405.7 527.5,406.0 529.5,405.8 531.5,405.2 533.5,407.2 535.5,407.2 537.5,408.0 539.5,408.3 541.5,410.2 543.5,410.2 545.5,411.4 547.5,411.1 549.5,412.2 551.5,412.3 553.5,413.6 555.5,413.8 557.5,414.3 559.5,415.2 561.5,417.2 563.5,416.6 565.5,418.1 567.5,418.2 569.5,420.3 571.5,420.2 573.5,421.7 575.5,422.1 577.5,424.7 579.5,425.4 581.5,427.2 583.5,427.9 585.5,429.8 587.5,430.3 589.5,432.2 590.6,433.2 591.8,432.5 593.0,435.9 594.5,432.3 596.0,439.5 597.5,438.6 599.4,441.0 602.2,370.5 605.0,439.5 606.0,440.5 607.6,424.9 609.2,450.3 611.0,454.6 612.5,455.8 614.0,461.4 615.5,462.9 617.0,469.7 618.5,470.6 620.0,477.9 621.5,477.1 623.0,476.6 624.4,486.7 625.7,234.1 627.0,491.8 629.0,494.6 630.5,495.3 632.0,501.1 633.5,494.4 635.0,509.3 636.5,508.2 638.0,507.4 639.0,513.0 640.3,351.9 641.6,516.5 642.5,510.0 644.0,521.9 645.5,519.9 647.0,524.9 648.5,524.4 650.0,530.5 651.5,528.6 653.0,533.8 654.5,525.4 656.0,532.2 657.5,537.5 658.7,539.4 660.0,346.5 661.3,542.8 662.0,541.8 663.5,537.4 665.0,545.3 666.5,544.6 668.0,553.1 669.5,549.9 671.0,554.9 672.5,553.2 674.0,549.0 675.5,554.2 677.0,557.0 678.9,554.3 680.2,478.5 681.5,560.1 682.4,546.5 683.6,559.1 684.8,554.5 686.0,555.7 687.2,546.7 688.4,557.1 689.6,545.8 690.8,561.1 692.5,564.7 693.7,536.2 694.9,566.0 695.6,535.6 696.8,542.4 698.0,566.1 699.2,566.4 700.4,553.6 701.6,549.9 703.2,568.6 704.5,463.0 705.8,569.4 706.4,567.0 707.7,569.9 709.0,503.5 710.3,570.7 711.2,540.7 712.4,548.1 713.1,571.5 714.4,487.8 715.7,572.3 717.2,567.4 718.4,570.3 719.6,563.4 720.8,571.3 722.0,555.6 723.2,557.2 724.4,569.3 725.6,566.8 726.8,572.3 728.0,548.5 729.2,568.7 730.4,548.0 731.9,574.7 733.2,487.8 734.5,575.0 735.2,570.5 736.4,551.7 737.6,560.5 738.8,561.7 740.0,549.6 741.2,550.2 742.4,575.7 743.7,511.3 745.0,576.0 746.0,570.2 747.2,573.1 748.4,565.1 749.6,567.6 750.8,559.9 752.0,558.5 753.2,550.5 754.4,573.0 755.6,566.5 757.4,578.0 758.7,526.8 760.0,578.5 761.6,555.8 762.8,571.2 764.0,548.0 765.2,569.7 766.4,557.1 767.6,552.6 768.7,580.2 770.0,517.0 771.3,580.8 772.4,565.0 773.6,556.5 774.8,579.0 776.0,580.2 777.2,566.8 778.4,577.6 779.6,561.3 780.8,577.1 782.0,577.2 783.2,580.2 784.4,563.4 785.6,551.8 786.8,559.3 787.9,583.0 789.2,520.2 790.5,583.4 791.6,567.6 792.3,583.6 793.6,524.5 794.9,583.9 796.4,557.8 797.7,584.2 799.0,534.5 800.3,584.5 801.2,573.8 802.4,575.6 803.6,574.0 804.8,571.3 806.0,557.0 807.2,573.7 808.4,578.9 809.7,584.9 811.0,556.2 812.3,585.0 813.2,558.6 814.4,558.4 815.6,583.3 816.8,579.1 818.0,585.2 819.3,525.7 820.6,585.3 821.6,569.4 822.8,581.4 824.0,555.3 825.2,584.2 826.4,563.0 827.6,578.4 828.8,558.5 830.0,580.6 831.2,578.4 832.4,575.4 833.6,556.3 834.7,586.3 836.0,564.9 837.3,586.6 838.4,571.7 839.6,578.7 840.8,564.9 842.0,584.9 843.2,584.6 844.4,572.6 845.6,583.7 846.8,556.5" fill="none" stroke="#06a4cd" stroke-width="5.6" stroke-linejoin="round" stroke-linecap="round"/>
</g>
<rect x="97.2" y="5" width="750" height="599.8" fill="none" stroke="#0c3c69" stroke-width="3.8"/>
<line x1="628.5" y1="39.6" x2="674" y2="39.6" stroke="#9c5aa8" stroke-width="5.5" stroke-linecap="round"/>
<text x="684.3" y="47.7" class="t" style="font-size:25.6px">NCO Mode</text>
<line x1="628.5" y1="70.2" x2="674" y2="70.2" stroke="#f28a2a" stroke-width="5.5" stroke-linecap="round"/>
<text x="684.3" y="77.7" class="t">1× Interp</text>
<line x1="628.5" y1="100.7" x2="674" y2="100.7" stroke="#7a7b7d" stroke-width="5.5" stroke-linecap="round"/>
<text x="684.3" y="107.7" class="t">2× Interp</text>
<line x1="628.5" y1="131.2" x2="674" y2="131.2" stroke="#13a84a" stroke-width="5.5" stroke-linecap="round"/>
<text x="684.3" y="137.7" class="t">3× Interp</text>
<line x1="628.5" y1="161.8" x2="674" y2="161.8" stroke="#06a4cd" stroke-width="5.5" stroke-linecap="round"/>
<text x="684.3" y="167.7" class="t">4× Interp</text>
<text x="86.8" y="17.5" class="t" text-anchor="end"><tspan dy="2">−</tspan><tspan dx="-0.3" dy="-2">80</tspan></text>
<text x="86.8" y="83.8" class="t" text-anchor="end"><tspan dy="2">−</tspan><tspan dx="-0.3" dy="-2">90</tspan></text>
<text x="86.8" y="150.2" class="t" text-anchor="end"><tspan dy="2">−</tspan><tspan dx="-1.2" dy="-2">100</tspan></text>
<text x="86.8" y="216.5" class="t" text-anchor="end"><tspan dy="2">−</tspan><tspan dx="-1.2" dy="-2">110</tspan></text>
<text x="86.8" y="282.8" class="t" text-anchor="end"><tspan dy="2">−</tspan><tspan dx="-1.2" dy="-2">120</tspan></text>
<text x="86.8" y="349.1" class="t" text-anchor="end"><tspan dy="2">−</tspan><tspan dx="-1.2" dy="-2">130</tspan></text>
<text x="86.8" y="415.5" class="t" text-anchor="end"><tspan dy="2">−</tspan><tspan dx="-1.2" dy="-2">140</tspan></text>
<text x="86.8" y="481.8" class="t" text-anchor="end"><tspan dy="2">−</tspan><tspan dx="-1.2" dy="-2">150</tspan></text>
<text x="86.8" y="548.1" class="t" text-anchor="end"><tspan dy="2">−</tspan><tspan dx="-1.2" dy="-2">160</tspan></text>
<text x="86.8" y="614.5" class="t" text-anchor="end"><tspan dy="2">−</tspan><tspan dx="-1.2" dy="-2">170</tspan></text>
<text x="100.85" y="638.8" class="t" text-anchor="middle">10</text>
<text x="220.95" y="638.8" class="t" text-anchor="middle">100</text>
<text x="351" y="638.8" class="t" text-anchor="middle">1k</text>
<text x="474" y="638.8" class="t" text-anchor="middle">10k</text>
<text x="600.7" y="638.8" class="t" text-anchor="middle">100k</text>
<text x="723.6" y="638.8" class="t" text-anchor="middle">1M</text>
<text x="847.4" y="638.8" class="t" text-anchor="middle">10M</text>
<text x="472.7" y="683.7" class="t" text-anchor="middle">Frequency Offset (Hz)</text>
<text transform="translate(17.9,304.5) rotate(-90)" x="0" y="0" class="t" style="font-size:25.5px" text-anchor="middle">Power (dBc/Hz)</text>
<rect x="672" y="659" width="195" height="30" fill="#fbfbfb"/>
<text x="769.8" y="679.7" class="wm" text-anchor="middle">www.cntronics.com</text>
</svg></body></html>
